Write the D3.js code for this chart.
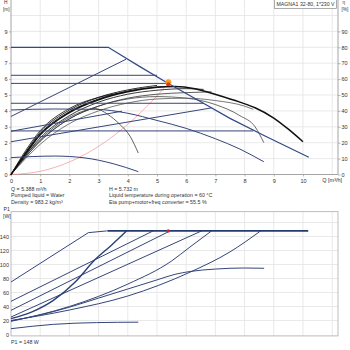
<!DOCTYPE html>
<html><head><meta charset="utf-8">
<script src="https://cdn.jsdelivr.net/npm/d3@7"></script>
<style>
body{margin:0;background:#fff}
svg{display:block;font-family:"Liberation Sans Narrow","Liberation Sans",Arial,sans-serif}
</style>
</head><body>
<svg id="c" width="350" height="350"></svg>
<script>
// ---------- tick labels ----------
const qTicks = [0,1,2,3,4,5,6,7,8,9,10];
const qGrid = [1,2,3,4,5,6,7,8,9,10,11];
const hTicks = [0,1,2,3,4,5,6,7,8,9];
const hGrid = [1,2,3,4,5,6,7,8,9,10];
const etaTicks = [0,10,20,30,40,50,60,70,80,90];
const pTicks = [0,20,40,60,80,100,120,140];
const pGrid = [20,40,60,80,100,120,140,160];

// ---------- head curves [Q m3/h, H m] ----------
const hMax   = [[0,8],[3.33,8],[4.4,6.8],[5.39,5.73],[6.5,4.58],[7.5,3.53],[8.7,2.42],[10.2,1.08]];
const hPP3   = [[0,3.65],[3.94,7.25]];
const hCP3   = [[0,6.24],[5.0,6.24]];
const hCP2   = [[0,5.73],[5.388,5.73]];
const hCP1   = [[0,4.48],[6.6,4.48]];
const hCP0   = [[0,2.74],[8.3,2.74]];
const hPP2   = [[0,2.06],[6.87,4.19]];
const hPP1   = [[0,2.72],[3.8,3.98]];
const hCC1   = [[0,4.06],[1.5,4.12],[2.9,4.1],[4,3.85],[5,3.4],[6,2.9],[7,2.25],[7.84,1.6],[8.66,0.8]];
const hMin   = [[0,1.06],[1.5,1.16],[2.5,1.05],[3.5,0.68],[4.36,0.18]];
const sysCurve = [[0,0],[1,0.2],[2,0.79],[3,1.77],[4,3.16],[5,4.94],[5.388,5.732]];

// ---------- efficiency curves [Q m3/h, eta %] ----------
const etaMax = [[0,0],[0.5,13],[1,25],[2,39],[3,47],[4,52],[5,54.8],[5.6,55.3],[6.3,54],[7.07,50],[7.84,45.5],[8.36,42],[9,35.5],[9.5,28.5],[10,20.6]];
const etaCP3 = [[0,0],[0.5,14],[1,26.5],[2,40.5],[3,48.5],[4,53.2],[5,56]];
const etaCP2 = [[0,0],[0.5,13.5],[1,25.5],[2,39.5],[3,47.5],[4,52.5],[5,55],[5.39,55.5]];
const etaCP1 = [[0,0],[0.5,12],[1,23],[2,37],[3,45.5],[4,50.5],[5,53],[6,54],[6.6,53.5]];
const etaPP3 = [[0,0],[0.5,15],[1,27.5],[2,41.5],[3,48.5],[3.94,51.7]];
const etaPP2 = [[0,0],[0.5,11],[1,21],[2,35],[3,43],[4,48],[5,50.5],[6,51.5],[6.87,52]];
const etaCP0 = [[0,0],[0.5,10],[1,19],[2,32],[3,40],[4,45],[5,47.5],[6,48],[7,46.5],[8,43],[8.3,41]];
const etaCC1 = [[0,0],[0.5,11],[1,21],[2,35],[3,43],[4,47.5],[5,49],[6,48],[7,44],[7.84,37],[8.36,30],[8.66,20]];
const etaMin = [[0,0],[0.5,12],[1,22],[1.5,30],[2,36],[2.5,40],[2.88,41.5],[3.3,38],[3.7,32],[4.08,24],[4.36,13.5]];

// ---------- power curves [Q m3/h, P1 W] ----------
const pMax   = [[0,75],[2.65,145.5],[3.28,148]];
const pLimit = [[3.3,148],[10.18,148]];
const pPP3   = [[0,22.6],[0.7,32],[1.45,48.8],[2.2,75],[2.88,107],[3.45,128],[3.96,148]];
const pCP3   = [[0,47.4],[4.87,148]];
const pCP2   = [[0,34.5],[5.45,148]];
const pCP1   = [[0,25],[6.53,148]];
const pPP2   = [[0,18.8],[2,40],[4,72],[5.5,105],[6.13,125],[6.87,148]];
const pCP0   = [[0,20],[2,35],[4,55],[6.13,89],[7.5,118],[8.55,148]];
const pCC1   = [[0,19.5],[1,28],[2,39],[3,52],[4,65],[5,78],[5.62,86],[6.13,90],[7,93.5],[8,95],[8.67,94.6]];
const pMin   = [[0,8.3],[1.45,14.5],[2.93,17],[4.36,17.6]];

const opQ = 5.388, opH = 5.732, opP = 148;

const infoLeft = ["Q = 5.388 m³/h","Pumped liquid = Water","Density = 983.2 kg/m³"];
const infoRight = ["H = 5.732 m","Liquid temperature during operation = 60 °C","Eta pump+motor+freq converter = 55.5 %"];

// ---------- scales ----------
const x = d3.scaleLinear().domain([0,11.2]).range([11,338]);
const yH = d3.scaleLinear().domain([0,11]).range([174.5,-0.4]);
const yE = d3.scaleLinear().domain([0,110]).range([174.5,-0.4]);
const yP = d3.scaleLinear().domain([0,175.5]).range([334.5,211.65]);

const svg = d3.select("#c");
const gridC = "#e3e3e3", axisC = "#9a9a9a", txtC = "#333", navy = "#34467a";

// ---------- top chart grid ----------
const gTop = svg.append("g");
gTop.selectAll("line.vg").data(qGrid).join("line")
  .attr("x1",d=>x(d)).attr("x2",d=>x(d)).attr("y1",0).attr("y2",yH(0))
  .attr("stroke",gridC).attr("stroke-width",0.8);
gTop.selectAll("line.hg").data(hGrid).join("line")
  .attr("x1",x(0)).attr("x2",x(11.2)).attr("y1",d=>yH(d)).attr("y2",d=>yH(d))
  .attr("stroke",gridC).attr("stroke-width",0.8);

// axes
const axL = d3.axisLeft(yH).tickValues(hTicks).tickSize(2).tickPadding(1.5);
const gL = gTop.append("g").attr("transform",`translate(${x(0)},0)`).call(axL);
const axR = d3.axisRight(yE).tickValues(etaTicks).tickSize(2.5).tickPadding(1);
const gR = gTop.append("g").attr("transform",`translate(${x(11.2)},0)`).call(axR);
const axB = d3.axisBottom(x).tickValues(qTicks).tickSize(2).tickPadding(2.5);
const gB = gTop.append("g").attr("transform",`translate(0,${yH(0)})`).call(axB);
[gL,gR,gB].forEach(g=>{
  g.select(".domain").attr("stroke",axisC).attr("stroke-width",0.9);
  g.selectAll(".tick line").attr("stroke",axisC).attr("stroke-width",0.7);
  g.selectAll(".tick text").attr("fill",txtC).style("font-size","5.5px").style("font-family","inherit");
});
gL.select(".domain").attr("d",`M0,0V${yH(0)}`);
gR.select(".domain").attr("d",`M0,0V${yH(0)}`);
gB.select(".domain").attr("d",`M${x(0)},0H${x(11.2)}`);

gTop.append("text").attr("x",4).attr("y",3.8).text("H").attr("fill",txtC).style("font-size","4.8px");
gTop.append("text").attr("x",3).attr("y",10.8).text("[m]").attr("fill",txtC).style("font-size","4.8px");
gTop.append("text").attr("x",342.5).attr("y",3.6).text("η").attr("fill",txtC).style("font-size","4.6px");
gTop.append("text").attr("x",341.5).attr("y",10.8).text("[%]").attr("fill",txtC).style("font-size","4.8px");
gTop.append("text").attr("x",x(11)).attr("y",yH(0)+7.8).attr("text-anchor","middle")
  .text("Q [m³/h]").attr("fill",txtC).style("font-size","5.5px");

// legend box
const lg = gTop.append("g");
const lt = lg.append("text").attr("x",334.5).attr("y",6.3).attr("text-anchor","end").text("MAGNA1 32-80, 1*230 V")
  .attr("fill",txtC).style("font-size","5.2px");
const bb = lt.node().getBBox();
lg.insert("rect","text").attr("x",bb.x-2).attr("y",-1).attr("width",bb.width+3.5).attr("height",9.5)
  .attr("fill","#fff").attr("stroke","#888").attr("stroke-width",0.7);

// ---------- top chart curves ----------
const lineH = d3.line().x(d=>x(d[0])).y(d=>yH(d[1]));
const lineHc = d3.line().x(d=>x(d[0])).y(d=>yH(d[1])).curve(d3.curveMonotoneX);
const lineE = d3.line().x(d=>x(d[0])).y(d=>yE(d[1])).curve(d3.curveMonotoneX);
const lineP = d3.line().x(d=>x(d[0])).y(d=>yP(d[1]));
const linePc = d3.line().x(d=>x(d[0])).y(d=>yP(d[1])).curve(d3.curveMonotoneX);

gTop.append("path").attr("d",lineHc(sysCurve)).attr("fill","none").attr("stroke","#f08080").attr("stroke-width",0.6);

[[etaMin,"#3a3a3a",0.8],[etaCC1,"#444",0.8],[etaCP0,"#555",0.8],[etaPP2,"#333",0.8],
 [etaCP1,"#222",0.9],[etaPP3,"#222",0.9],[etaCP3,"#111",0.9],[etaCP2,"#111",0.9],[etaMax,"#111",1.5]]
 .forEach(([d,c,w])=>gTop.append("path").attr("d",lineE(d)).attr("fill","none").attr("stroke",c).attr("stroke-width",w));

[[hMin,1,true],[hCC1,1,true],[hCP0,1,false],[hPP2,1,false],[hPP1,1,false],[hCP1,1,false],
 [hPP3,1,false],[hCP3,1,false],[hCP2,1,false]]
 .forEach(([d,w,c])=>gTop.append("path").attr("d",(c?lineHc:lineH)(d)).attr("fill","none").attr("stroke",navy).attr("stroke-width",w));
gTop.append("path").attr("d",lineH(hMax)).attr("fill","none").attr("stroke","#2f4a88").attr("stroke-width",1.2);

gTop.append("circle").attr("cx",x(opQ)).attr("cy",yH(opH)-1).attr("r",3).attr("fill","#f5a020");
gTop.append("circle").attr("cx",x(opQ)).attr("cy",yH(opH)+0.8).attr("r",2).attr("fill","#e03020");

// ---------- info text ----------
const info = svg.append("g").attr("fill",txtC).style("font-size","5.3px");
infoLeft.forEach((t,i)=>info.append("text").attr("x",11).attr("y",190.5+i*6.8).text(t));
infoRight.forEach((t,i)=>info.append("text").attr("x",109).attr("y",190.5+i*6.8).text(t));

// ---------- bottom chart ----------
const gBot = svg.append("g");
gBot.selectAll("line.vg").data(qGrid).join("line")
  .attr("x1",d=>x(d)).attr("x2",d=>x(d)).attr("y1",yP(175.5)).attr("y2",yP(-2))
  .attr("stroke",gridC).attr("stroke-width",0.8);
gBot.selectAll("line.hg").data(pGrid).join("line")
  .attr("x1",x(0)).attr("x2",x(11.2)).attr("y1",d=>yP(d)).attr("y2",d=>yP(d))
  .attr("stroke",gridC).attr("stroke-width",0.8);
gBot.append("rect").attr("x",x(0)).attr("y",yP(175.5)).attr("width",x(11.2)-x(0)).attr("height",yP(-2)-yP(175.5))
  .attr("fill","none").attr("stroke","#b5b5b5").attr("stroke-width",0.9);
const axP = d3.axisLeft(yP).tickValues(pTicks).tickSize(0).tickPadding(2);
const gP = gBot.append("g").attr("transform",`translate(${x(0)},0)`).call(axP);
gP.select(".domain").remove();
gP.selectAll(".tick text").attr("fill",txtC).style("font-size","5.5px").style("font-family","inherit");
gBot.append("text").attr("x",3.5).attr("y",210.5).text("P1").attr("fill",txtC).style("font-size","5.2px");
gBot.append("text").attr("x",3).attr("y",217.5).text("[W]").attr("fill",txtC).style("font-size","5.2px");

[[pMin,1,true],[pCC1,1,true],[pCP0,1,true],[pPP2,1,true],[pCP1,1,false],[pCP2,1,false],
 [pCP3,1,false],[pMax,1,false]]
 .forEach(([d,w,c])=>gBot.append("path").attr("d",(c?linePc:lineP)(d)).attr("fill","none").attr("stroke",navy).attr("stroke-width",w));
gBot.append("path").attr("d",linePc(pPP3)).attr("fill","none").attr("stroke","#2a3f78").attr("stroke-width",1.4);
gBot.append("path").attr("d",lineP(pLimit)).attr("fill","none").attr("stroke","#253a70").attr("stroke-width",1.8);
gBot.append("circle").attr("cx",x(opQ)).attr("cy",yP(opP)).attr("r",1.7).attr("fill","#e02020");

svg.append("text").attr("x",11).attr("y",344).text("P1 = 148 W").attr("fill",txtC).style("font-size","5.3px");
</script>
</body></html>
